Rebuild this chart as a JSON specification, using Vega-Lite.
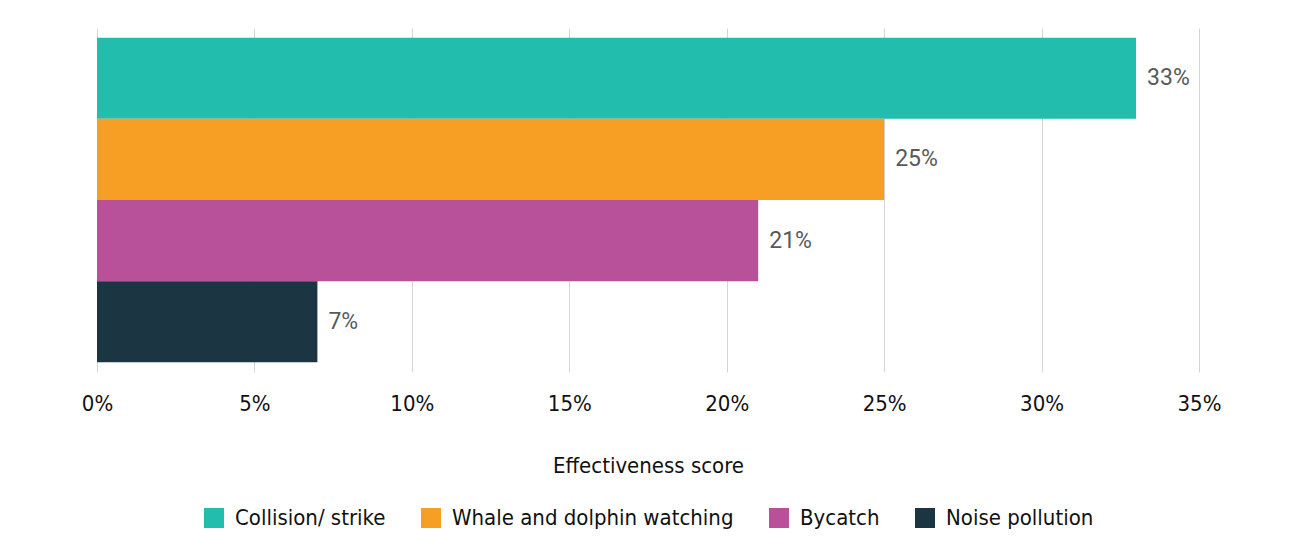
{
  "$schema": "https://vega.github.io/schema/vega-lite/v6.json",
  "width": 1102,
  "height": 344,
  "autosize": {"type": "none"},
  "padding": {"left": 97, "top": 28, "right": 91, "bottom": 173},
  "background": "white",
  "data": {
    "values": [
      {"threat": "Collision/ strike", "score": 0.33, "label": "33%"},
      {"threat": "Whale and dolphin watching", "score": 0.25, "label": "25%"},
      {"threat": "Bycatch", "score": 0.21, "label": "21%"},
      {"threat": "Noise pollution", "score": 0.07, "label": "7%"}
    ]
  },
  "encoding": {
    "y": {
      "field": "threat",
      "type": "nominal",
      "sort": null,
      "axis": null,
      "scale": {"paddingInner": 0, "paddingOuter": 0.12}
    },
    "x": {
      "field": "score",
      "type": "quantitative",
      "scale": {"domain": [0, 0.35]},
      "axis": {
        "format": ".0%",
        "values": [0, 0.05, 0.1, 0.15, 0.2, 0.25, 0.3, 0.35],
        "title": "Effectiveness score",
        "domain": false,
        "ticks": false,
        "grid": true,
        "gridColor": "#d3d7db",
        "gridWidth": 1,
        "labelFlush": false,
        "labelFont": "Liberation Sans Narrow, DejaVu Sans Condensed, sans-serif",
        "labelFontSize": 22,
        "labelColor": "#111111",
        "labelPadding": 21,
        "titleFont": "Liberation Sans Narrow, DejaVu Sans Condensed, sans-serif",
        "titleFontSize": 22,
        "titleFontWeight": "normal",
        "titleColor": "#111111",
        "titlePadding": 41
      }
    }
  },
  "layer": [
    {
      "mark": {"type": "bar"},
      "encoding": {
        "color": {
          "field": "threat",
          "type": "nominal",
          "sort": null,
          "scale": {
            "domain": ["Collision/ strike", "Whale and dolphin watching", "Bycatch", "Noise pollution"],
            "range": ["#22bdad", "#f79f25", "#b8509a", "#1c3542"]
          },
          "legend": {
            "orient": "bottom",
            "direction": "horizontal",
            "title": null,
            "symbolType": "square",
            "symbolSize": 400,
            "symbolStrokeWidth": 0,
            "labelFont": "Liberation Sans Narrow, DejaVu Sans Condensed, sans-serif",
            "labelFontSize": 22,
            "labelColor": "#111111",
            "labelOffset": 10,
            "columnPadding": 34,
            "offset": 31,
            "labelLimit": 400
          }
        }
      }
    },
    {
      "mark": {
        "type": "text",
        "align": "left",
        "dx": 11,
        "font": "Roboto",
        "fontSize": 23,
        "color": "#595959"
      },
      "encoding": {"text": {"field": "label"}}
    }
  ],
  "config": {
    "view": {"stroke": null},
    "legend": {"layout": {"bottom": {"anchor": "middle"}}}
  }
}
